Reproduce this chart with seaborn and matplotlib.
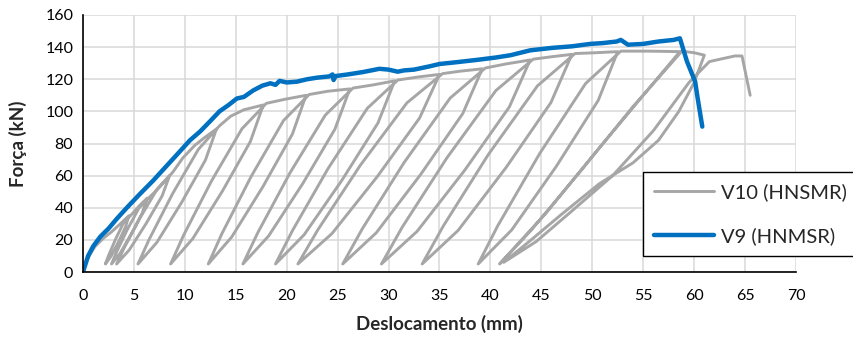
import pandas as pd
import matplotlib.pyplot as plt
import seaborn as sns

# V10 (HNSMR) - ensaio ciclico (deslocamento mm, forca kN)
v10_desloc = [0, 0.3, 0.7, 1.2, 2.0, 2.8, 3.5, 4.5,
              4.18, 3.49, 2.75, 2.2, 2.52, 3.21, 3.97, 4.8,
              5.5, 6.3, 5.81, 4.76, 3.64, 2.8, 3.29, 4.34, 5.50, 6.6,
              7.4, 8.5, 7.77, 6.21, 4.55, 3.3, 4.03, 5.59, 7.30, 8.8,
              9.8, 11.0, 12.0, 13.1, 12.02, 9.71, 7.25, 5.4, 6.48, 8.79, 11.33, 13.4,
              14.5, 15.8, 17.7, 16.43, 13.70, 10.78, 8.6, 9.87, 12.60, 15.61, 18.0,
              19.8, 21.9, 20.56, 17.68, 14.60, 12.3, 13.64, 16.52, 19.69, 22.2,
              24.0, 26.2, 24.73, 21.58, 18.22, 15.7, 17.17, 20.32, 23.79, 26.5,
              28.5, 30.6, 28.96, 25.45, 21.71, 18.9, 20.54, 24.05, 27.91, 30.9,
              33.0, 35.0, 33.05, 28.88, 24.44, 21.1, 23.05, 27.22, 31.80, 35.3,
              37.0, 39.2, 37.28, 33.17, 28.79, 25.5, 27.42, 31.53, 36.05, 39.5,
              41.5, 43.9, 41.86, 37.48, 32.80, 29.3, 31.34, 35.72, 40.54, 44.2,
              46.0, 48.0, 45.94, 41.53, 36.83, 33.3, 35.36, 39.77, 44.62, 48.3,
              50.3, 52.5, 50.58, 46.47, 42.09, 38.8, 40.72, 44.83, 49.35, 52.8,
              55.5, 58.6, 55.0, 50.0, 45.5, 40.9, 44.0, 49.0, 54.0, 58.8,
              60.0, 61.0, 60.0, 58.5, 56.5, 54.0, 50.7, 47.0, 44.0, 41.3,
              44.5, 48.0, 52.0, 56.0, 59.5, 61.5, 62.2, 64.0, 64.7, 65.5]
v10_forca = [0, 6, 11, 16, 21, 25, 29, 35,
             28.1, 18.8, 9.8, 5, 10.4, 20.6, 30.5, 36,
             41, 46, 36.6, 23.9, 11.6, 5, 12.4, 26.3, 39.9, 47,
             52, 60, 47.4, 30.3, 13.8, 5, 14.9, 33.6, 51.8, 62,
             71, 79, 84, 89, 69.7, 43.6, 18.4, 5, 20.1, 48.7, 76.4, 91,
             97, 101, 104, 81.2, 50.5, 20.8, 5, 22.8, 56.5, 89.2, 105,
             107.5, 110, 85.9, 53.3, 21.8, 5, 23.9, 59.6, 94.3, 110.5,
             112.5, 114, 88.9, 55.1, 22.4, 5, 24.6, 61.7, 97.7, 114.5,
             116.5, 119, 92.8, 57.4, 23.2, 5, 25.5, 64.3, 101.9, 119.5,
             121.5, 123, 95.9, 59.3, 23.9, 5, 26.2, 66.4, 105.3, 123.5,
             125, 126.5, 98.6, 60.9, 24.4, 5, 26.9, 68.2, 108.3, 127,
             129.5, 132, 102.8, 63.4, 25.3, 5, 27.9, 71.0, 113.0, 132.5,
             134, 135.5, 105.5, 65.0, 25.9, 5, 28.5, 72.9, 115.9, 136,
             136.5, 137.2, 106.8, 65.8, 26.2, 5, 28.8, 73.7, 117.4, 137.5,
             137.5, 137.2, 110, 72, 37, 5, 26, 64, 103, 137.5,
             136.5, 135, 118, 100, 82, 68, 55, 36, 20, 6,
             19, 38, 60, 88, 118, 131, 132, 134.5, 134.5, 110]

# V9 (HNMSR)
v9_desloc = [0, 0.2, 0.5, 1.0, 1.7, 2.5, 3.3, 4.3, 5.5, 6.9, 8.2, 9.5, 10.5,
             11.5, 12.5, 13.4, 14.3, 15.1, 15.8, 16.7, 17.6, 18.4, 18.9, 19.3,
             20.0, 21.0, 22.0, 23.0, 24.2, 24.5, 24.6, 24.8, 26.0, 27.5, 29.1,
             30.0, 30.9, 31.5, 32.5, 34.0, 35.0, 36.5, 38.6, 40.5, 42.0, 43.9,
             46.0, 48.0, 49.8, 51.0, 52.4, 52.8, 53.5, 55.0, 56.5, 58.0, 58.6,
             59.3, 60.1, 60.3, 60.8]
v9_forca = [0, 4, 10, 16, 22, 27, 33, 40, 48, 57, 66, 75, 82,
            87.5, 94, 100, 104, 108, 109, 113, 116, 117.5, 116.5, 119,
            118, 118.5, 120, 121, 121.8, 123, 119.5, 122, 123, 124.5, 126.5,
            126, 124.7, 125.5, 126, 128, 129.5, 130.5, 132, 133.5, 135, 138,
            139.5, 140.5, 142, 142.5, 143.5, 144.5, 141.5, 142, 143.5, 144.5, 145.5,
            131, 118.5, 110, 90.5]

df10 = pd.DataFrame({'desloc': v10_desloc, 'forca': v10_forca})
df9 = pd.DataFrame({'desloc': v9_desloc, 'forca': v9_forca})

sns.set_theme(style="whitegrid")
plt.rcParams['font.family'] = ['Lato', 'DejaVu Sans']

fig = plt.figure(figsize=(8.54, 3.38), dpi=100)
ax = fig.add_axes([83 / 854, 1 - 272 / 338, 713 / 854, 257 / 338])
ax.set_facecolor('white')

sns.lineplot(data=df10, x='desloc', y='forca', sort=False, estimator=None,
             color='#a6a6a6', linewidth=2.1, label='V10 (HNSMR)', ax=ax)
sns.lineplot(data=df9, x='desloc', y='forca', sort=False, estimator=None,
             color='#0070c0', linewidth=3.2, label='V9 (HNMSR)', ax=ax)

ax.set_xlim(0, 70)
ax.set_ylim(0, 160)
ax.set_xticks(range(0, 71, 5))
ax.set_yticks(range(0, 161, 20))
ax.grid(True, color='#d9d9d9', linewidth=1.1)
for s in ['top', 'right']:
    ax.spines[s].set_visible(False)
for s in ['left', 'bottom']:
    ax.spines[s].set_color('black')
    ax.spines[s].set_linewidth(1.2)
ax.tick_params(axis='both', direction='out', length=4, width=1, color='black',
               labelsize=11.5, labelcolor='black', pad=3)
ax.tick_params(axis='x', pad=8)

ax.set_xlabel('Deslocamento (mm)', fontsize=13.5, fontweight='bold', labelpad=9)
ax.set_ylabel('Força (kN)', fontsize=13.5, fontweight='bold', labelpad=13)

leg = ax.legend(loc='lower left', bbox_to_anchor=(643 / 854, 1 - 256 / 338),
                bbox_transform=fig.transFigure, fontsize=14.5, frameon=True,
                fancybox=False, borderaxespad=0, handlelength=3.0,
                labelspacing=1.3, borderpad=0.55, handletextpad=0.3)
leg.get_frame().set_edgecolor('black')
leg.get_frame().set_linewidth(1.0)
leg.get_frame().set_alpha(1)

fig.savefig('out.png', dpi=100)
